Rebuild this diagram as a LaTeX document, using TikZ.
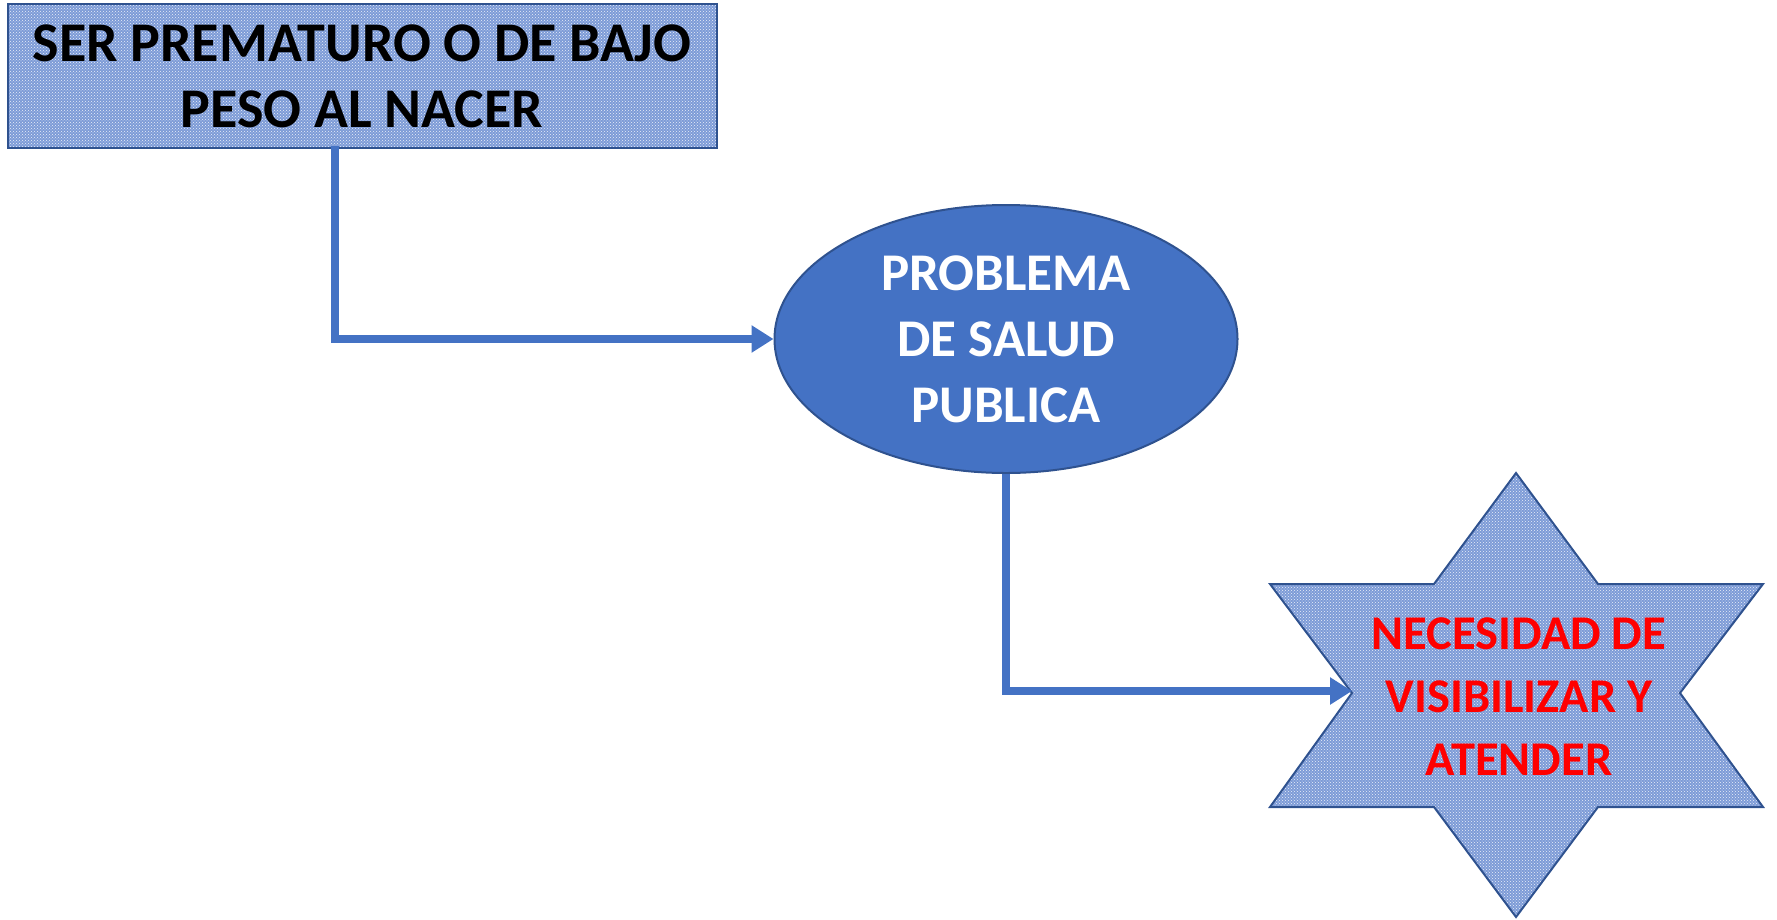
\documentclass[tikz,border=0pt]{standalone}
\usepackage{fontspec}
\setmainfont{Carlito}
\usetikzlibrary{arrows.meta,shapes.geometric,patterns}
\definecolor{accent}{HTML}{4472C4}
\definecolor{edgeblue}{HTML}{2F528F}
\definecolor{patblue}{RGB}{125,155,215}
\definecolor{txtred}{RGB}{255,0,0}
\tikzset{
  conn/.style={draw=accent,line width=7.5pt,-{Triangle[length=22pt,width=26pt]}},
  patfill/.style={preaction={fill=patblue},pattern=crosshatch dots,pattern color=white!85!patblue},
  bigtxt/.style={font=\bfseries\fontsize{53}{66}\selectfont,align=center}
}
\begin{document}
\begin{tikzpicture}[x=1pt,y=-1pt]
\useasboundingbox (0,0) rectangle (1777,919);
% rectangle
\node[patfill,draw=edgeblue,line width=2pt,minimum width=709pt,minimum height=144pt,inner sep=0pt,
      font=\bfseries\fontsize{56}{66}\selectfont,align=center,text=black] (rect) at (362,76) {SER PREMATURO O DE BAJO\\PESO AL NACER};
% ellipse
\node[ellipse,fill=accent,draw=edgeblue,line width=2pt,minimum width=463pt,minimum height=268pt,inner sep=0pt,
      bigtxt,text=white] (ell) at (1006,339) {PROBLEMA\\DE SALUD\\PUBLICA};
% star
\draw[patfill,draw=edgeblue,line width=2pt,line join=miter]
  (1516,473) -- (1598,584) -- (1763,584) -- (1680,693) -- (1763,807) -- (1598,807)
  -- (1516,917) -- (1434,807) -- (1270,807) -- (1352,693) -- (1270,584) -- (1434,584) -- cycle;
\node[font=\bfseries\fontsize{48.5}{63}\selectfont,align=center,text=txtred] (star) at (1519,697)
  {NECESIDAD DE\\VISIBILIZAR Y\\ATENDER};
\coordinate (rs) at (335,146);
\coordinate (starL) at (1352,691);
% connectors
\draw[conn] (rs) |- (ell.west);
\draw[conn] (ell.south) |- (starL);
\end{tikzpicture}
\end{document}
